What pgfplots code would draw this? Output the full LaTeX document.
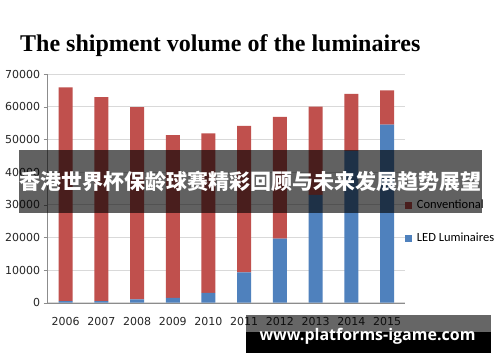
\documentclass[border=0pt]{standalone}
\usepackage{pgfplots}
\pgfplotsset{compat=1.18}
\usepackage{pgfplotstable}
\usepackage{fontspec}
\setmainfont{DejaVu Sans}
\newfontfamily\titlefont{Liberation Serif}
\newfontfamily\legfont{Carlito}
\newfontfamily\urlfont{Open Sans}
\newfontfamily\cjk{Noto Sans CJK SC}
\definecolor{conv}{HTML}{C0504D}
\definecolor{led}{HTML}{4F81BD}
\definecolor{gridc}{HTML}{D9D9D9}
\definecolor{axc}{HTML}{8C8C8C}

\pgfplotstableread{
idx year led conv
0 2006 500 65400
1 2007 500 62400
2 2008 1000 58900
3 2009 1500 49800
4 2010 3000 48800
5 2011 9300 44800
6 2012 19600 37300
7 2013 33000 27000
8 2014 46500 17400
9 2015 54500 10500
}\data

\begin{document}
\begin{tikzpicture}[x=1pt,y=1pt]
\useasboundingbox (0,0) rectangle (500,362);
\fill[white] (0,0) rectangle (500,362);
\node[anchor=base west, inner sep=0pt, font=\titlefont\bfseries\fontsize{24}{28}\selectfont] at (20,310.3) {The shipment volume of the luminaires};
\coordinate (AO) at (47.7pt,59.3pt);
\begin{axis}[
  at={(AO)}, anchor=south west,
  scale only axis, width=357.3pt, height=228.7pt,
  ybar stacked, bar width=14pt,
  xmin=-0.5, xmax=9.5, ymin=0, ymax=70000,
  ytick={0,10000,...,70000},
  scaled y ticks=false,
  /pgf/number format/assume math mode=true,
  yticklabel style={/pgf/number format/.cd, fixed, 1000 sep={}},
  ticklabel style={font=\fontsize{11}{13}\selectfont, text=black!85},
  xticklabel style={yshift=-7pt},
  xtick={0,...,9},
  xticklabels from table={\data}{year},
  xtick style={draw=none},
  minor xtick={-0.5,0.5,...,9.5},
  minor x tick style={axc},
  minor tick length=5pt,
  major tick length=4pt,
  ytick style={axc},
  tick align=outside,
  axis x line*=bottom, axis y line*=left,
  axis line style={axc},
  ymajorgrids, major grid style={gridc, line width=0.8pt},
  reverse legend,
  legend style={draw=none, fill=none, at={(1,0.355)}, anchor=west, xshift=-3.3pt,
    font=\legfont\fontsize{12.5}{14}\selectfont, row sep=21pt, column sep=5pt,
    nodes={inner sep=0pt, text height=9pt, text depth=3pt}},
  legend cell align=left,
  legend image code/.code={\fill[#1, draw=none] (0pt,-3.5pt) rectangle (7pt,3.5pt);},
]
\addplot[fill=led, draw=none] table[x=idx, y=led] {\data};
\addlegendentry{LED Luminaires}
\addplot[fill=conv, draw=none] table[x=idx, y=conv] {\data};
\addlegendentry{Conventional}
\end{axis}
\fill[black, opacity=0.62] (18.5,149.3) rectangle (481.7,212);
\node[text=white, inner sep=0pt, font=\cjk\bfseries\fontsize{21}{24}\selectfont] at (250,180.5) {香港世界杯保龄球赛精彩回顾与未来发展趋势展望};
\fill[black, opacity=0.6] (246,30.3) rectangle (490.7,46.7);
\fill[black] (246,9.3) rectangle (490.7,30.3);
\node[text=white, inner sep=0pt, font=\urlfont\bfseries\fontsize{16}{19}\selectfont] at (367.5,26) {www.platforms-igame.com};
\end{tikzpicture}
\end{document}
